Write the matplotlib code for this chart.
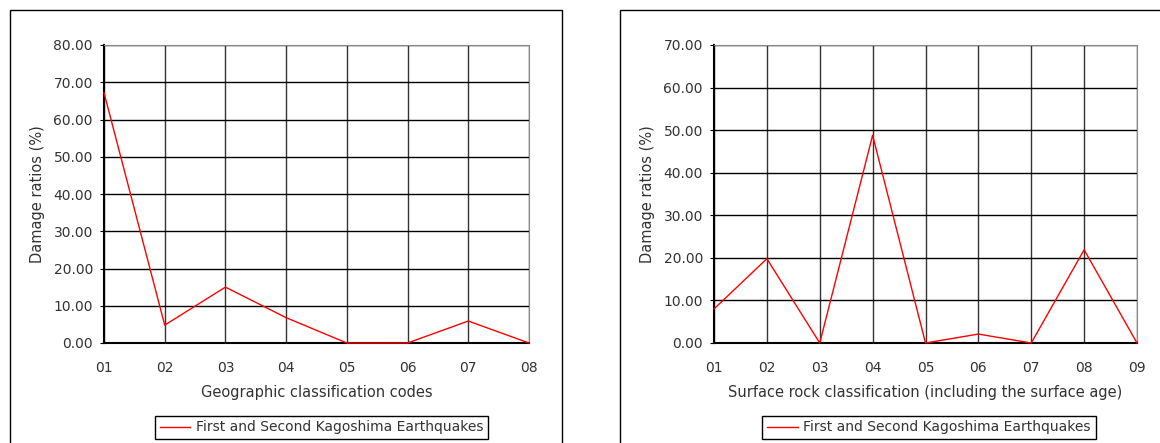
import matplotlib.pyplot as plt
from matplotlib.patches import Rectangle

# data
geo_codes = ["01", "02", "03", "04", "05", "06", "07", "08"]
geo_damage = [67.2, 4.8, 15.0, 6.8, 0.0, 0.0, 5.9, 0.0]

rock_codes = ["01", "02", "03", "04", "05", "06", "07", "08", "09"]
rock_damage = [8.0, 19.8, 0.0, 48.8, 0.0, 2.1, 0.0, 21.9, 0.0]

series_label = "First and Second Kagoshima Earthquakes"

plt.rcParams["font.family"] = ["DejaVu Sans"]
text_color = "#333333"

fig = plt.figure(figsize=(11.6, 4.43), dpi=100)
W, H = 1160, 443


def px_rect(x0, y0, x1, y1):
    # pixel box (top-left origin) -> figure fraction [l, b, w, h]
    return [x0 / W, 1 - y1 / H, (x1 - x0) / W, (y1 - y0) / H]


# panel frames
for (x0, x1) in [(10, 562), (620, 1175)]:
    fig.patches.append(Rectangle((x0 / W, -0.05), (x1 - x0) / W, 1 - 10 / H + 0.05,
                                 transform=fig.transFigure, fill=False,
                                 edgecolor="black", linewidth=1.0))

panels = [
    (geo_codes, geo_damage, 80, (104, 45, 529, 343),
     "Geographic classification codes", (157, 414, 486, 441)),
    (rock_codes, rock_damage, 70, (714, 45, 1137, 343),
     "Surface rock classification (including the surface age)", (766, 414, 1092, 441)),
]

for codes, values, ymax, box, xlabel, legbox in panels:
    ax = fig.add_axes(px_rect(*box))
    xs = list(range(len(codes)))
    ax.plot(xs, values, color="red", linewidth=1.0, label=series_label,
            clip_on=False, zorder=3)
    ax.set_xlim(0, len(codes) - 1)
    ax.set_ylim(0, ymax)
    ax.set_xticks(xs)
    ax.set_xticklabels(codes)
    ax.set_yticks(range(0, ymax + 1, 10))
    ax.set_yticklabels([f"{v:.2f}" for v in range(0, ymax + 1, 10)])
    ax.grid(True, axis="y", color="black", linewidth=1.0)
    ax.grid(True, axis="x", color="#333333", linewidth=1.0)
    ax.set_axisbelow(True)
    ax.tick_params(axis="x", length=0, pad=13, labelsize=10, labelcolor=text_color)
    ax.tick_params(axis="y", length=3, pad=5, labelsize=10, labelcolor=text_color)
    for side in ["top", "right"]:
        ax.spines[side].set_color("#888888")
    for side in ["left", "bottom"]:
        ax.spines[side].set_linewidth(1.5)
    ax.set_xlabel(xlabel, fontsize=10.5, color=text_color, labelpad=7)
    ax.set_ylabel("Damage ratios (%)", fontsize=10.5, color=text_color, labelpad=6)

    lx0, ly0, lx1, ly1 = legbox
    leg = ax.legend(loc="center", fontsize=10,
                    bbox_to_anchor=((lx0 + lx1) / 2 / W, 1 - (ly0 + ly1) / 2 / H),
                    bbox_transform=fig.transFigure, fancybox=False,
                    edgecolor="black", framealpha=1, handlelength=2.2,
                    borderpad=0.35, handletextpad=0.4, labelcolor=text_color)
    leg.get_frame().set_linewidth(1.0)

fig.savefig("out.png", dpi=100)
